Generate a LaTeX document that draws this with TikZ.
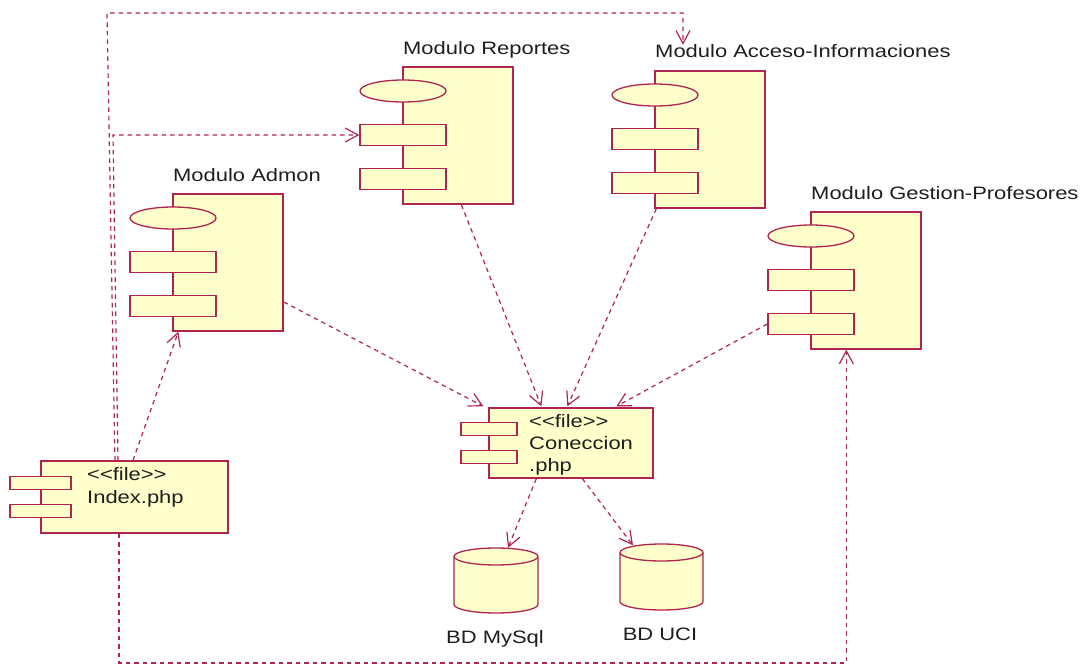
\documentclass[tikz,border=0pt]{standalone}
\usepackage{fontspec}
\usepackage{graphicx}
\setmainfont{Liberation Sans}
\usetikzlibrary{arrows.meta,shapes.geometric,calc}

\definecolor{linec}{RGB}{176,36,78}
\definecolor{fillc}{RGB}{255,255,204}
\definecolor{textc}{RGB}{30,30,30}

% wide Windows-style label text
\newcommand{\wtxt}[1]{\scalebox{1.22}[1]{#1}}

% UML component: body, interface ellipse, two bars and a name label
% #1 name, #2 left x, #3 top y, #4 label, #5 label baseline y
\newcommand{\umlmodule}[5]{%
  \node[modbody] (#1) at ({#2+55},{#3+68.5}) {};
  \node[modport] (#1-e) at (#2,{#3+24}) {};
  \node[modbar] (#1-a) at (#2,{#3+68}) {};
  \node[modbar] (#1-b) at (#2,{#3+112}) {};
  \node[lbl] (#1-l) at (#2,#5) {\wtxt{#4}};
}

\begin{document}
\begin{tikzpicture}[x=1pt,y=-1pt,
  shapebase/.style={draw=linec, fill=fillc, line width=1.3pt, inner sep=0pt},
  modbody/.style={shapebase, rectangle, minimum width=110pt, minimum height=137pt},
  modport/.style={shapebase, ellipse, minimum width=86pt, minimum height=22pt},
  modbar/.style={shapebase, rectangle, minimum width=86pt, minimum height=21pt},
  filebody/.style={shapebase, rectangle},
  filebar/.style={shapebase, rectangle, minimum height=13.5pt},
  lbl/.style={anchor=base west, inner sep=0pt, text=textc, font=\fontsize{18}{21}\selectfont},
  dbshape/.style={draw=linec, fill=fillc, line width=1.3pt},
  dep/.style={draw=linec, line width=1.2pt, dash pattern=on 4.5pt off 4pt,
    -{Straight Barb[length=13pt,width=14pt,line width=1.2pt]}},
  depline/.style={draw=linec, line width=1.2pt, dash pattern=on 4.5pt off 4pt},
]
\useasboundingbox (0,0) rectangle (1087,666);

% ---- modules ----
\umlmodule{rep}{403}{67}{Modulo Reportes}{55}
\umlmodule{acc}{655}{71}{Modulo Acceso-Informaciones}{58}
\umlmodule{ges}{811}{212}{Modulo Gestion-Profesores}{199}
\umlmodule{adm}{173}{194}{Modulo Admon}{181}

% ---- Index.php ----
\node[filebody, minimum width=187pt, minimum height=72pt] (idx) at (134.5,497) {};
\node[filebar, minimum width=61pt] (idx-a) at (40.5,483) {};
\node[filebar, minimum width=61pt] (idx-b) at (40.5,511) {};
\node[lbl] (idx-t1) at (87,480) {\wtxt{<\kern0pt<file>\kern0pt>}};
\node[lbl] (idx-t2) at (87,503) {\wtxt{Index.php}};

% ---- Coneccion.php ----
\node[filebody, minimum width=164pt, minimum height=70pt] (con) at (571,443) {};
\node[filebar, minimum width=56pt] (con-a) at (489,429) {};
\node[filebar, minimum width=56pt] (con-b) at (489,457) {};
\node[lbl] (con-t1) at (529,427) {\wtxt{<\kern0pt<file>\kern0pt>}};
\node[lbl] (con-t2) at (529,449) {\wtxt{Coneccion}};
\node[lbl] (con-t3) at (529,471) {\wtxt{.php}};

% ---- databases ----
\path[dbshape] (454,556.5) -- (454,604.5)
  arc[start angle=180, end angle=0, x radius=42, y radius=8.5] -- (538,556.5)
  arc[start angle=0, end angle=-180, x radius=42, y radius=8.5] -- cycle;
\draw[draw=linec, line width=1.3pt] (454,556.5)
  arc[start angle=180, end angle=0, x radius=42, y radius=8.5];
\node[inner sep=0pt, minimum width=84pt, minimum height=65pt] (mysql) at (496,580.5) {};
\node[lbl, anchor=base] (mysql-l) at (495,643) {\wtxt{BD MySql}};

\path[dbshape] (620,552.5) -- (620,601.5)
  arc[start angle=180, end angle=0, x radius=41.5, y radius=8.5] -- (703,552.5)
  arc[start angle=0, end angle=-180, x radius=41.5, y radius=8.5] -- cycle;
\draw[draw=linec, line width=1.3pt] (620,552.5)
  arc[start angle=180, end angle=0, x radius=41.5, y radius=8.5];
\node[inner sep=0pt, minimum width=83pt, minimum height=66pt] (uci) at (661.5,577) {};
\node[lbl, anchor=base] (uci-l) at (660,640) {\wtxt{BD UCI}};

% ---- routing points ----
\coordinate (topl) at (107,13);
\coordinate (topr) at (683,13);
\coordinate (midl) at (113,135);
\coordinate (botl) at (500,663);

% ---- dependencies ----
\draw[dep] ([xshift=-19.5pt]idx.north) -- (topl) -- (topr) -- (topr |- acc-l.north);
\draw[dep] ([xshift=-16.5pt]idx.north) -- (midl) -- (midl -| rep-a.west);
\draw[dep] ([xshift=-1.5pt]idx.north) -- ([xshift=6pt]adm.south west);
\draw[dep] ([xshift=-15.5pt]idx.south) |- (botl) -| ([xshift=36pt]ges.south west);

\draw[dep] ([yshift=-39.5pt]adm.east) -- ([xshift=-5pt,yshift=1pt]con.north west);
\draw[dep] ([xshift=59pt]rep.south west) -- ([xshift=53pt,yshift=1pt]con.north west);
\draw[dep] ([xshift=2pt]acc.south west) -- ([xshift=79pt,yshift=1pt]con.north west);
\draw[dep] (ges-b.west) -- ([xshift=128pt,yshift=1pt]con.north west);

\draw[dep] ([xshift=48pt]con.south west) -- ([xshift=12pt]mysql.north);
\draw[dep] ([xshift=94pt]con.south west) -- ([xshift=-28.5pt,yshift=-1.5pt]uci.north);
\end{tikzpicture}
\end{document}
